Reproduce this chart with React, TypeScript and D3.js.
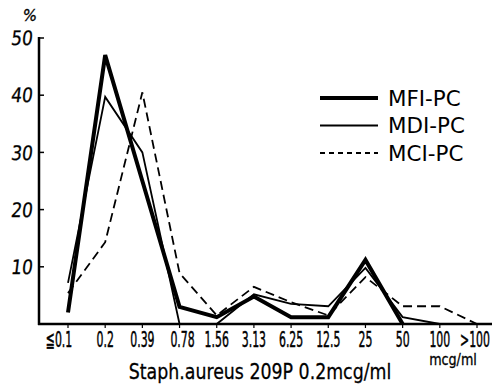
import React from "react";
import * as d3 from "d3";

const categories = ["≦0.1", "0.2", "0.39", "0.78", "1.56", "3.13", "6.25", "12.5", "25", "50", "100", ">100"];
const mfiValues: (number | null)[] = [2, 47, 25, 3, 1.2, 4.8, 1.2, 1.2, 11.2, 0, null, null];
const mdiValues: (number | null)[] = [7.2, 39.7, 30, 0, 0, 5.2, 3.5, 3.1, 9.8, 1.2, 0, null];
const mciValues: (number | null)[] = [5.4, 14.3, 40.5, 8.9, 1.5, 6.5, 3.8, 1.5, 8.2, 3.1, 3.1, 0];
const yTicks = [10, 20, 30, 40, 50];
const seriesNames = ["MFI-PC", "MDI-PC", "MCI-PC"];

const FONT = "'DejaVu Sans', sans-serif";

export default function App() {
  const W = 496, H = 386;
  const x = d3.scalePoint<string>().domain(categories).range([68, 477]);
  const y = d3.scaleLinear().domain([0, 50]).range([324, 38]);

  const mk = (vals: (number | null)[]) =>
    d3
      .line<number | null>()
      .defined((d) => d !== null)
      .x((_, i) => x(categories[i]) as number)
      .y((d) => y(d as number))(vals) || "";

  const series = [
    { name: seriesNames[0], vals: mfiValues, w: 4, dash: "" },
    { name: seriesNames[1], vals: mdiValues, w: 1.8, dash: "" },
    { name: seriesNames[2], vals: mciValues, w: 1.8, dash: "9,5" },
  ];

  const labelOffset = (c: string) => (c === "≦0.1" ? -9 : c === "0.78" ? 3 : c === ">100" ? -2 : 0);

  return (
    <svg width={W} height={H} style={{ position: "absolute", left: 0, top: 0, background: "#fff" }}>
      {/* axes */}
      <line x1={39} x2={39} y1={37} y2={325} stroke="#000" strokeWidth={2.5} />
      <line x1={38} x2={492} y1={y(0)} y2={y(0)} stroke="#000" strokeWidth={2.5} />
      {yTicks.map((t) => (
        <g key={t}>
          <line x1={39} x2={44} y1={y(t)} y2={y(t)} stroke="#000" strokeWidth={1.5} />
          <text
            transform={`translate(33, ${y(t)}) scale(0.85, 1) skewX(-8)`}
            dy="0.36em"
            textAnchor="end"
            fontFamily={FONT}
            fontSize={20}
            stroke="#000"
            strokeWidth={0.3}
          >
            {t}
          </text>
        </g>
      ))}
      <text x={30} y={21} textAnchor="middle" fontFamily={FONT} fontStyle="italic" fontSize={15} stroke="#000" strokeWidth={0.3}>
        %
      </text>
      {categories.map((c) => (
        <g key={c}>
          <line x1={x(c)} x2={x(c)} y1={y(0)} y2={y(0) + 4} stroke="#000" strokeWidth={1.2} />
          <text
            transform={`translate(${(x(c) as number) + labelOffset(c)}, 346.5) scale(0.52, 1)`}
            textAnchor="middle"
            fontFamily={FONT}
            fontSize={21}
            stroke="#000"
            strokeWidth={0.5}
          >
            {c}
          </text>
        </g>
      ))}
      <text
        transform="translate(453, 365) scale(0.85, 1)"
        textAnchor="middle"
        fontFamily={FONT}
        fontSize={15}
        stroke="#000"
        strokeWidth={0.3}
      >
        mcg/ml
      </text>
      <text
        transform="translate(260, 379) scale(0.79, 1)"
        textAnchor="middle"
        fontFamily={FONT}
        fontSize={22}
        stroke="#000"
        strokeWidth={0.3}
      >
        Staph.aureus 209P 0.2mcg/ml
      </text>

      {/* series */}
      {series.map((s) => (
        <path
          key={s.name}
          d={mk(s.vals)}
          fill="none"
          stroke="#000"
          strokeWidth={s.w}
          strokeDasharray={s.dash}
          strokeLinejoin="miter"
        />
      ))}

      {/* legend */}
      {series.map((s, i) => (
        <g key={s.name} transform={`translate(0, ${98 + i * 27.5})`}>
          <line
            x1={320}
            x2={378}
            y1={0}
            y2={0}
            stroke="#000"
            strokeWidth={s.w}
            strokeDasharray={s.dash ? "5,4" : ""}
          />
          <text
            transform="translate(388, 0) scale(1.02, 1)"
            dy="0.36em"
            fontFamily={FONT}
            fontSize={21}
          >
            {s.name}
          </text>
        </g>
      ))}
    </svg>
  );
}
